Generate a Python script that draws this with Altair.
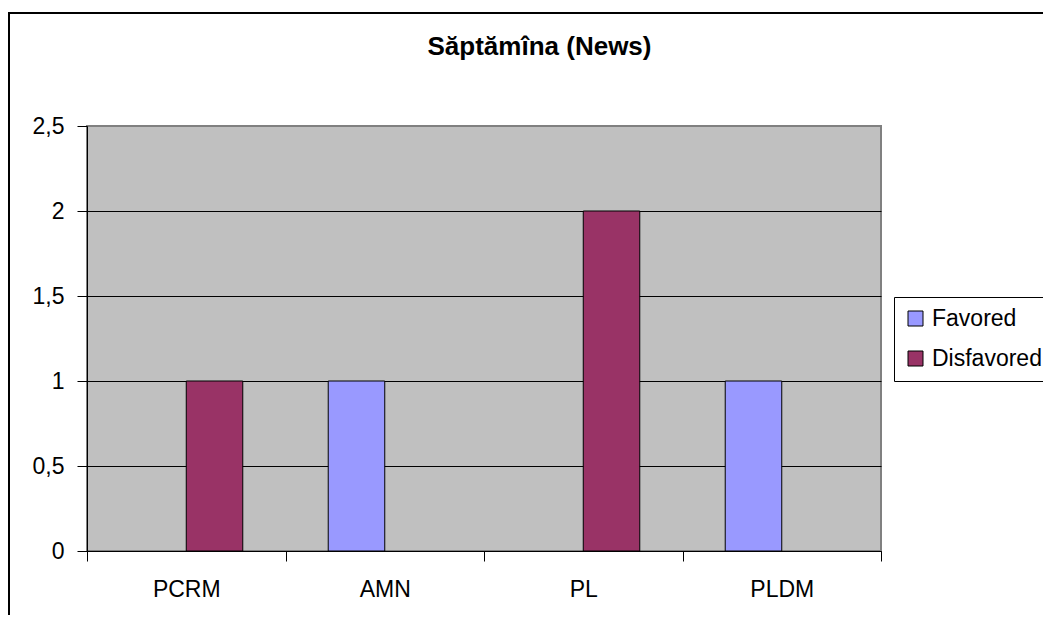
import altair as alt
import pandas as pd

categories = ["PCRM", "AMN", "PL", "PLDM"]
series = ["Favored", "Disfavored"]
favored = [0, 1, 0, 1]
disfavored = [1, 0, 2, 0]
y_ticks = [0, 0.5, 1, 1.5, 2, 2.5]
title_text = "Săptămîna (News)"
colors = ["#9999FF", "#993366"]

rows = []
for i, c in enumerate(categories):
    rows.append({"party": c, "series": "Favored", "value": favored[i]})
    rows.append({"party": c, "series": "Disfavored", "value": disfavored[i]})
df = pd.DataFrame(rows)

FONT = "Liberation Sans"

bars = alt.Chart(df).transform_filter("datum.value > 0").mark_bar(
    stroke="black", strokeWidth=1
).encode(
    x=alt.X("party:N", sort=categories, title=None,
            scale=alt.Scale(domain=categories, paddingInner=0, paddingOuter=0),
            axis=alt.Axis(labelAngle=0, tickBand="extent", tickSize=10,
                          tickColor="black", domainColor="black",
                          labelFont=FONT, labelFontSize=23, labelColor="black",
                          labelPadding=17, grid=False)),
    xOffset=alt.XOffset("series:N", sort=series,
                        scale=alt.Scale(domain=series, paddingInner=0, paddingOuter=0.756)),
    y=alt.Y("value:Q", title=None,
            scale=alt.Scale(domain=[0, 2.5], nice=False),
            axis=alt.Axis(values=y_ticks, tickSize=10, tickColor="black",
                          domainColor="black",
                          labelFont=FONT, labelFontSize=23, labelColor="black",
                          labelPadding=13,
                          labelExpr="replace(format(datum.value, '~g'), '.', ',')",
                          grid=True,
                          gridColor={"condition": {"test": "datum.value >= 2.5", "value": "#808080"},
                                     "value": "black"},
                          gridWidth=1)),
    color=alt.Color("series:N", sort=series,
                    scale=alt.Scale(domain=series, range=colors),
                    legend=alt.Legend(title=None, orient="none", legendX=807, legendY=171,
                                      symbolType="square", symbolSize=225,
                                      symbolStrokeColor="black", symbolStrokeWidth=1,
                                      labelFont=FONT, labelFontSize=23, labelColor="black",
                                      labelOffset=5, rowPadding=16, padding=10,
                                      strokeColor="black", fillColor="white")),
)

title = alt.Chart(pd.DataFrame({"t": [title_text]})).mark_text(
    font=FONT, fontSize=26, fontWeight="bold", color="black",
    align="center", baseline="middle"
).encode(x=alt.value(452.5), y=alt.value(-79), text="t:N")

frame = alt.Chart(pd.DataFrame({"a": [0]})).mark_rect(
    fill="transparent", stroke="black", strokeWidth=2
).encode(x=alt.value(-78), x2=alt.value(1300), y=alt.value(-113), y2=alt.value(900))

chart = alt.layer(frame, bars, title).properties(
    width=794, height=425,
    background="white",
    autosize=alt.AutoSizeParams(type="none"),
    padding={"left": 79, "top": 118, "right": 162, "bottom": 64},
).configure_view(
    fill="#C0C0C0", stroke="#808080", strokeWidth=2
)

chart.save("out.html", embed_options={"renderer": "svg", "actions": False})
